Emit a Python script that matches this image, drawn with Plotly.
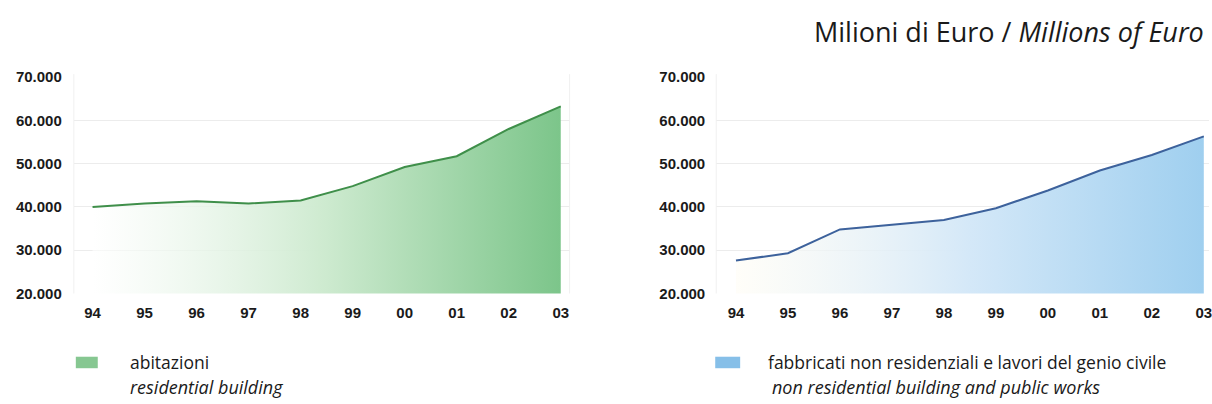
import plotly.graph_objects as go

# Construction investment by year, millions of euro
years = ["94", "95", "96", "97", "98", "99", "00", "01", "02", "03"]
residential = [40000, 40800, 41300, 40800, 41500, 44800, 49200, 51700, 58000, 63200]
non_residential = [27600, 29300, 34800, 35900, 37000, 39700, 43800, 48400, 52000, 56300]

y_ticks = [20000, 30000, 40000, 50000, 60000, 70000]
y_tick_labels = ["20.000", "30.000", "40.000", "50.000", "60.000", "70.000"]

W, H = 1212, 404
FONT = "Open Sans"

fig = go.Figure()

xs = list(range(len(years)))

fig.add_trace(go.Scatter(
    x=xs, y=residential, mode="lines",
    line=dict(color="#3f8f4a", width=2),
    fill="tozeroy",
    fillgradient=dict(type="horizontal",
                      colorscale=[[0, "rgba(255,255,255,0.6)"], [0.5, "#cdeacf"], [1, "#7cc58a"]]),
    xaxis="x", yaxis="y", showlegend=False, hoverinfo="skip",
))
fig.add_trace(go.Scatter(
    x=xs, y=non_residential, mode="lines",
    line=dict(color="#3d629c", width=2),
    fill="tozeroy",
    fillgradient=dict(type="horizontal",
                      colorscale=[[0, "rgba(255,253,245,0.6)"], [0.5, "#d4e8f8"], [1, "#9fcfef"]]),
    xaxis="x2", yaxis="y2", showlegend=False, hoverinfo="skip",
))

def px_x(p):
    return p / W

def px_y(p):
    return 1 - p / H

y_dom = [px_y(297), px_y(71)]

axis_font = dict(family="Liberation Sans, Arial", size=15, color="#1a1a1a")

common_x = dict(
    tickmode="array", tickvals=xs, ticktext=[f"<b>{t}</b>" for t in years],
    showgrid=False, zeroline=False, showline=False, ticks="",
    tickfont=axis_font, fixedrange=True, ticklabelstandoff=8,
    ticklabeloverflow="allow",
)
common_y = dict(
    range=[20000, 70000], tickmode="array", tickvals=y_ticks,
    ticktext=[f"<b>{t}</b>" for t in y_tick_labels],
    showgrid=True, gridcolor="#ececec", gridwidth=1,
    zeroline=False, showline=False, ticks="",
    tickfont=axis_font, fixedrange=True,
)

fig.update_layout(
    width=W, height=H,
    margin=dict(l=0, r=0, t=0, b=0),
    paper_bgcolor="white", plot_bgcolor="white",
    xaxis=dict(domain=[px_x(74), px_x(571)], range=[-0.36, 9.17], anchor="y", **common_x),
    yaxis=dict(domain=y_dom, anchor="x", ticklabelstandoff=11, **common_y),
    xaxis2=dict(domain=[px_x(718), 1.0], range=[-0.38, 9.1], anchor="y2", **common_x),
    yaxis2=dict(domain=y_dom, anchor="x2", ticklabelstandoff=10, **common_y),
)

# faint frame lines at the sides of each plot
for x0 in (74, 571, 718):
    fig.add_shape(type="line", xref="paper", yref="paper",
                  x0=px_x(x0), x1=px_x(x0), y0=px_y(297), y1=px_y(68),
                  line=dict(color="#f0f0f0", width=1))

# unit title
fig.add_annotation(
    text="Milioni di Euro / <i>Millions of Euro</i>",
    xref="paper", yref="paper", x=px_x(1209), y=px_y(23),
    xanchor="right", yanchor="middle", showarrow=False,
    font=dict(family=FONT, size=27, color="#1a1a1a"),
)

# legend swatches and captions
fig.add_shape(type="rect", xref="paper", yref="paper",
              x0=px_x(76), x1=px_x(98), y0=px_y(375), y1=px_y(363),
              fillcolor="#86c791", line=dict(width=0))
fig.add_shape(type="rect", xref="paper", yref="paper",
              x0=px_x(717), x1=px_x(742), y0=px_y(375), y1=px_y(363),
              fillcolor="#86bfe8", line=dict(width=0))

for x, y, txt, size in [
    (128, 369, "abitazioni", 17.5),
    (128, 395, "<i>residential building</i>", 18),
    (768, 369, "fabbricati non residenziali e lavori del genio civile", 17.5),
    (772, 395, "<i>non residential building and public works</i>", 18),
]:
    fig.add_annotation(text=txt, xref="paper", yref="paper",
                       x=px_x(x), y=px_y(y), xanchor="left", yanchor="middle",
                       showarrow=False,
                       font=dict(family=FONT, size=size, color="#1a1a1a"))

fig.write_html("out.html")
